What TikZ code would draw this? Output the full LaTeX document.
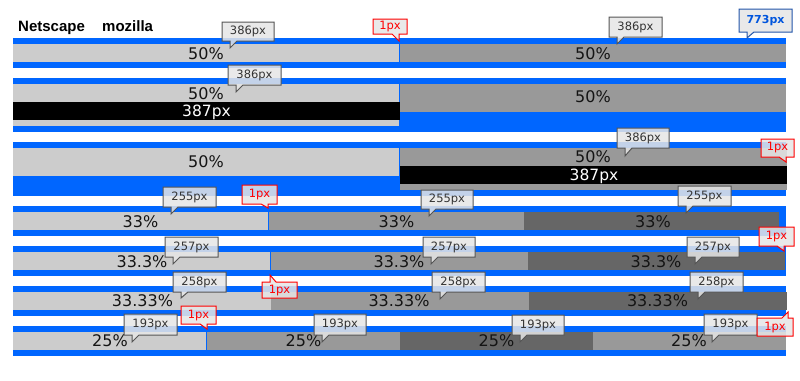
\documentclass[tikz,border=0pt]{standalone}
\usepackage{fontspec}
\setmainfont{DejaVu Sans}
\newfontfamily\headfont{Liberation Sans}
\definecolor{bandblue}{RGB}{0,102,255}
\definecolor{cellA}{RGB}{204,204,204}
\definecolor{cellB}{RGB}{153,153,153}
\definecolor{cellC}{RGB}{102,102,102}
\definecolor{callfill}{RGB}{230,230,230}
\definecolor{callgray}{RGB}{85,85,85}
\definecolor{calltext}{RGB}{51,51,51}
\definecolor{callred}{RGB}{255,0,0}
\definecolor{callblueline}{RGB}{34,85,170}
\definecolor{callbluetext}{RGB}{0,85,221}
\definecolor{labeltext}{RGB}{20,20,20}
\tikzset{
  band/.style={fill=bandblue},
  lightcell/.style={fill=cellA},
  midcell/.style={fill=cellB},
  darkcell/.style={fill=cellC},
  blackcell/.style={fill=black},
  pct/.style={anchor=base, inner sep=0pt, text=labeltext, font=\fontsize{16}{18}\selectfont},
  pxwhite/.style={anchor=base, inner sep=0pt, text=white, font=\fontsize{15.5}{18}\selectfont},
  head/.style={anchor=base west, inner sep=0pt, font=\headfont\bfseries\fontsize{15}{17}\selectfont},
  gcall/.style={draw=callgray, fill=callfill, fill opacity=0.85, line width=1pt},
  gcalltext/.style={inner sep=0pt, text=calltext, font=\fontsize{11.5}{13}\selectfont},
  rcall/.style={draw=callred, fill=callfill, fill opacity=0.85, line width=1pt},
  rcalltext/.style={inner sep=0pt, text=callred, font=\fontsize{11.5}{13}\selectfont},
  bcall/.style={draw=callblueline, fill=callfill, fill opacity=0.85, line width=1pt},
  bcalltext/.style={inner sep=0pt, text=callbluetext, font=\bfseries\fontsize{11}{13}\selectfont},
}
% callout with tail at the bottom, vertical edge on the left of the tail
\newcommand\cbl[9]{%
  \draw[#1] (#2,#3) -- (#4,#3) -- (#4,#5) -- ({#6+7},#5) -- (#6,#7) -- (#6,#5) -- (#2,#5) -- cycle;
  \node[#1text] (#9) at ({(#2+#4)/2},{(#3+#5)/2}) {#8};}
% tail at the bottom, vertical edge on the right
\newcommand\cbr[9]{%
  \draw[#1] (#2,#3) -- (#4,#3) -- (#4,#5) -- (#6,#5) -- (#6,#7) -- ({#6-7},#5) -- (#2,#5) -- cycle;
  \node[#1text] (#9) at ({(#2+#4)/2},{(#3+#5)/2}) {#8};}
% tail at the top, vertical edge on the left
\newcommand\ctl[9]{%
  \draw[#1] (#2,#3) -- (#6,#3) -- (#6,#7) -- ({#6+6},#3) -- (#4,#3) -- (#4,#5) -- (#2,#5) -- cycle;
  \node[#1text] (#9) at ({(#2+#4)/2},{(#3+#5)/2}) {#8};}
% tail at the top, vertical edge on the right
\newcommand\ctr[9]{%
  \draw[#1] (#2,#3) -- ({#6-6},#3) -- (#6,#7) -- (#6,#3) -- (#4,#3) -- (#4,#5) -- (#2,#5) -- cycle;
  \node[#1text] (#9) at ({(#2+#4)/2},{(#3+#5)/2}) {#8};}
\begin{document}
\begin{tikzpicture}[x=1pt,y=-1pt]
\useasboundingbox[fill=white] (0,0) rectangle (800,380);
% headings
\node[head] (ns) at (18,31) {Netscape};
\node[head] (mz) at (102,31) {mozilla};
% row 1
\fill[band] (13,38) rectangle (786,68);
\fill[lightcell] (13,44) rectangle (399,62);
\fill[midcell] (400,44) rectangle (786,62);
\node[pct] (r1a) at (206,59) {50\%};
\node[pct] (r1b) at (593,59) {50\%};
% row 2
\fill[band] (13,78) rectangle (786,132);
\fill[lightcell] (13,84) rectangle (399,126);
\fill[blackcell] (13,102) rectangle (400,120);
\fill[midcell] (400,84) rectangle (786,112);
\node[pct] (r2a) at (206,99) {50\%};
\node[pxwhite] (r2w) at (206.5,116) {387px};
\node[pct] (r2b) at (593,102) {50\%};
% row 3
\fill[band] (13,142) rectangle (786,196);
\fill[lightcell] (13,148) rectangle (399,176);
\fill[midcell] (400,148) rectangle (787,190);
\fill[blackcell] (400,166) rectangle (787,184);
\node[pct] (r3a) at (206,167) {50\%};
\node[pct] (r3b) at (593,162) {50\%};
\node[pxwhite] (r3w) at (594,180) {387px};
% row 4
\fill[band] (13,206) rectangle (786,236);
\fill[lightcell] (13,212) rectangle (268,230);
\fill[midcell] (269,212) rectangle (524,230);
\fill[darkcell] (524,212) rectangle (779,230);
\node[pct] (r4a) at (140.5,227) {33\%};
\node[pct] (r4b) at (396.5,227) {33\%};
\node[pct] (r4c) at (653,227) {33\%};
% row 5
\fill[band] (13,246) rectangle (786,276);
\fill[lightcell] (13,252) rectangle (270,270);
\fill[midcell] (271,252) rectangle (528,270);
\fill[darkcell] (528,252) rectangle (785,270);
\node[pct] (r5a) at (142,267) {33.3\%};
\node[pct] (r5b) at (399,267) {33.3\%};
\node[pct] (r5c) at (656,267) {33.3\%};
% row 6
\fill[band] (13,286) rectangle (786,316);
\fill[lightcell] (13,292) rectangle (271,310);
\fill[midcell] (271,292) rectangle (529,310);
\fill[darkcell] (529,292) rectangle (787,310);
\node[pct] (r6a) at (142.5,306) {33.33\%};
\node[pct] (r6b) at (399,306) {33.33\%};
\node[pct] (r6c) at (657.5,306) {33.33\%};
% row 7
\fill[band] (13,326) rectangle (786,356);
\fill[lightcell] (13,332) rectangle (206,350);
\fill[midcell] (207,332) rectangle (400,350);
\fill[darkcell] (400,332) rectangle (593,350);
\fill[midcell] (593,332) rectangle (786,350);
\node[pct] (r7a) at (110,346) {25\%};
\node[pct] (r7b) at (303.5,346) {25\%};
\node[pct] (r7c) at (496.5,346) {25\%};
\node[pct] (r7d) at (689,346) {25\%};
% gray callouts
\cbl{gcall}{222}{22}{274}{41}{230}{48}{386px}{g1}
\cbl{gcall}{609}{17}{662}{37}{617}{44}{386px}{g2}
\cbl{gcall}{228}{65}{281}{85}{236}{92}{386px}{g3}
\cbl{gcall}{617}{128}{669}{148}{625}{156}{386px}{g4}
\cbl{gcall}{163}{187}{216}{207}{171}{214}{255px}{g5}
\cbl{gcall}{421}{190}{473}{209}{429}{216}{255px}{g6}
\cbl{gcall}{678}{186}{731}{206}{686}{213}{255px}{g7}
\cbl{gcall}{165}{237}{218}{257}{173}{264}{257px}{g8}
\cbl{gcall}{423}{237}{475}{257}{431}{264}{257px}{g9}
\cbl{gcall}{687}{237}{739}{257}{695}{264}{257px}{g10}
\cbl{gcall}{173}{272}{226}{292}{181}{298}{258px}{g11}
\cbl{gcall}{432}{272}{485}{292}{440}{299}{258px}{g12}
\cbl{gcall}{690}{272}{743}{292}{698}{299}{258px}{g13}
\cbl{gcall}{124}{314}{177}{335}{132}{342}{193px}{g14}
\cbl{gcall}{314}{314}{366}{335}{322}{342}{193px}{g15}
\cbl{gcall}{512}{315}{564}{335}{520}{342}{193px}{g16}
\cbl{gcall}{704}{314}{757}{335}{712}{342}{193px}{g17}
% blue callout
\cbl{bcall}{739}{9}{792}{32}{747}{38}{773px}{b1}
% red callouts
\cbr{rcall}{373}{19}{407}{34}{399}{41}{1px}{p1}
\cbr{rcall}{761}{139}{794}{157}{786}{162}{1px}{p2}
\cbr{rcall}{242}{185}{277}{204}{268}{208}{1px}{p3}
\cbr{rcall}{759}{227}{794}{246}{784}{251}{1px}{p4}
\ctl{rcall}{262}{282}{297}{298}{270}{275}{1px}{p5}
\cbr{rcall}{181}{306}{216}{324}{207}{329}{1px}{p6}
\ctr{rcall}{757}{318}{793}{336}{788}{312}{1px}{p7}
\end{tikzpicture}
\end{document}
